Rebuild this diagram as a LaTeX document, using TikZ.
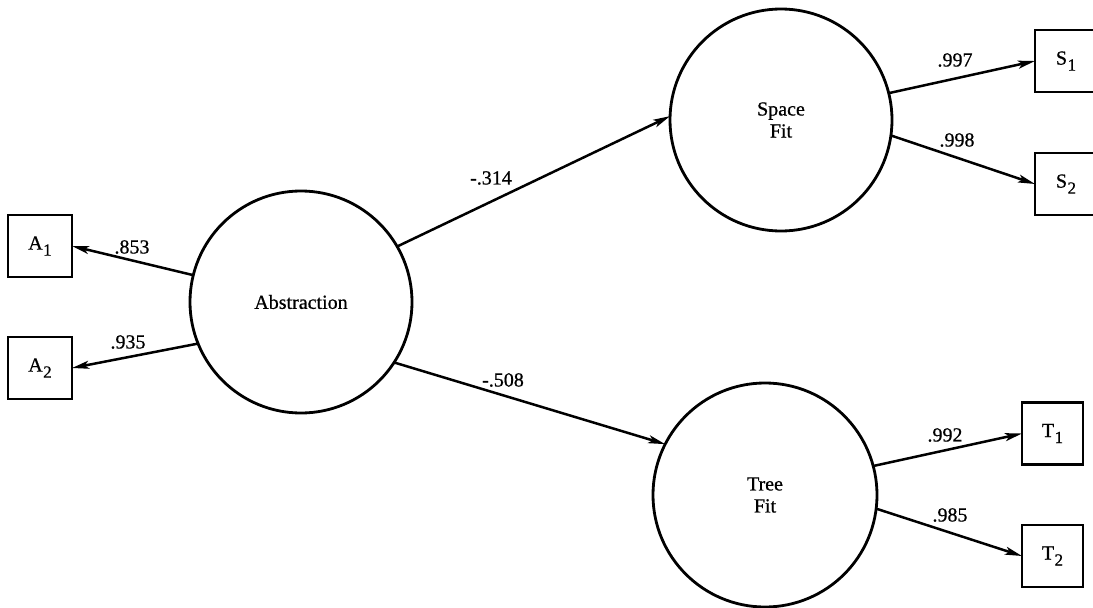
\documentclass[tikz,border=0pt]{standalone}
\usepackage{fontspec}
\setmainfont{Liberation Serif}[UprightFeatures={FakeBold=0.7}]
\usetikzlibrary{arrows.meta}
% indicator label: letter with a lowered index
\newcommand{\indvar}[2]{#1\kern0.5pt\raisebox{-6pt}{\fontsize{17}{17}\selectfont #2}}
\begin{document}
\begin{tikzpicture}[x=1pt,y=-1pt,
  latent/.style={circle, draw, line width=2.8pt, minimum size=#1, inner sep=0pt,
    outer sep=0pt, align=center, font=\fontsize{20}{22}\selectfont},
  indicator/.style={rectangle, draw, line width=2.4pt, minimum width=#1,
    minimum height=62pt, inner sep=0pt, outer sep=0pt, font=\fontsize{20}{20}\selectfont},
  path/.style={line width=2.5pt, -{Stealth[length=17pt,width=8pt,inset=4pt]}},
  coef/.style={font=\fontsize{20}{20}\selectfont, inner sep=0pt}
]
\useasboundingbox (0,0) rectangle (1093,608);

% latent factors
\node[latent=222pt] (abs) at (301,302) {Abstraction};
\node[latent=222pt] (space) at (781,120) {Space\\Fit};
\node[latent=224pt] (tree) at (765,495) {Tree\\Fit};

% observed indicators
\node[indicator=64pt] (a1) at (40,246) {\indvar{A}{1}};
\node[indicator=64pt] (a2) at (40,368) {\indvar{A}{2}};
\node[indicator=62pt] (s1) at (1066,61) {\indvar{S}{1}};
\node[indicator=62pt] (s2) at (1066,184) {\indvar{S}{2}};
\node[indicator=61pt] (t1) at (1052.5,433.5) {\indvar{T}{1}};
\node[indicator=61pt] (t2) at (1052.5,556) {\indvar{T}{2}};

% loadings of Abstraction
\draw[path] (abs.166) -- (a1.east);
\draw[path] (abs.202) -- (a2.east);
\node[coef] (c853) at (132,247) {.853};
\node[coef] (c935) at (128,342) {.935};

% structural paths
\draw[path] (abs.30) -- (space.178);
\draw[path] (abs.-33) -- (tree.153);
\node[coef] (c314) at (491,178) {-.314};
\node[coef] (c508) at (503,380) {-.508};

% loadings of Space Fit
\draw[path] (space.14) -- (s1.west);
\draw[path] (space.-8) -- (s2.west);
\node[coef] (c997) at (955,60) {.997};
\node[coef] (c998) at (957,140) {.998};

% loadings of Tree Fit
\draw[path] (tree.15) -- (t1.west);
\draw[path] (tree.-7) -- (t2.west);
\node[coef] (c992) at (945,435) {.992};
\node[coef] (c985) at (950,515) {.985};
\end{tikzpicture}
\end{document}
